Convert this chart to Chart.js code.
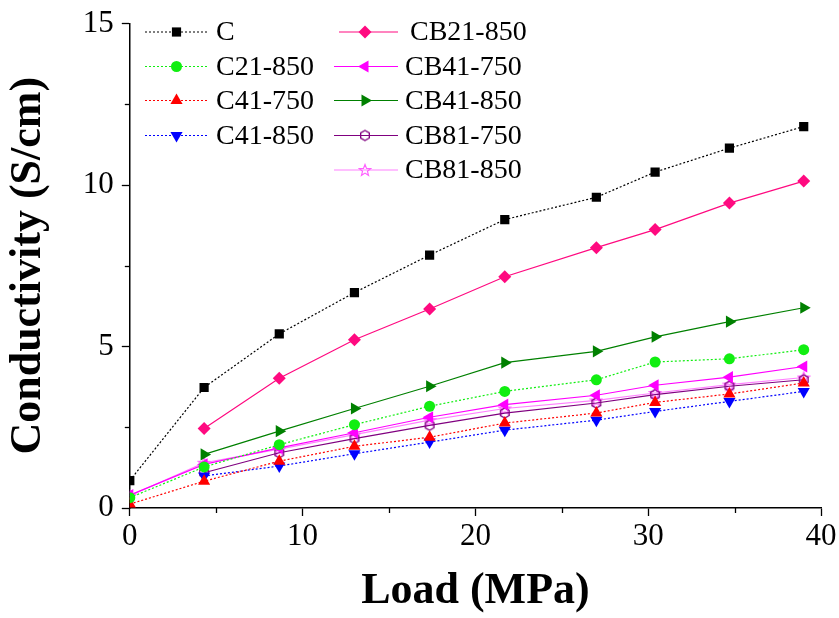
<!DOCTYPE html>
<html>
<head>
<meta charset="utf-8">
<script src="https://cdn.jsdelivr.net/npm/chart.js@4/dist/chart.umd.min.js"></script>
<style>
html,body{margin:0;padding:0;background:#fff;}
#wrap{width:839px;height:618px;position:relative;}
</style>
</head>
<body>
<div id="wrap"><canvas id="c" width="839" height="618"></canvas></div>
<script>
// ---- data ----
const loads = [0, 4.3, 8.65, 13, 17.35, 21.7, 27, 30.4, 34.7, 39];
const seriesNames = ['C','C21-850','C41-750','C41-850','CB21-850','CB41-750','CB41-850','CB81-750','CB81-850'];
const valC       = [0.85, 3.73, 5.39, 6.67, 7.83, 8.93, 9.62, 10.40, 11.14, 11.81];
const valC21_850 = [0.32, 1.27, 1.96, 2.58, 3.15, 3.61, 3.97, 4.52, 4.62, 4.90];
const valC41_750 = [0.12, 0.83, 1.45, 1.91, 2.19, 2.63, 2.94, 3.27, 3.53, 3.87];
const valC41_850 = [null, 0.99, 1.30, 1.68, 2.04, 2.41, 2.72, 2.99, 3.30, 3.61];
const valCB21_850 = [null, 2.46, 4.02, 5.21, 6.16, 7.16, 8.06, 8.62, 9.44, 10.12];
const valCB41_750 = [0.40, 1.35, 1.86, 2.33, 2.81, 3.20, 3.49, 3.80, 4.05, 4.38];
const valCB41_850 = [null, 1.66, 2.38, 3.08, 3.77, 4.50, 4.85, 5.30, 5.77, 6.20];
const valCB81_750 = [null, 1.09, 1.71, 2.15, 2.56, 2.94, 3.25, 3.51, 3.77, 3.97];
const valCB81_850 = [0.38, 1.40, 1.82, 2.27, 2.72, 3.08, 3.33, 3.56, 3.82, 4.04];
const xTicks = [0, 10, 20, 30, 40];
const yTicks = [0, 5, 10, 15];

// ---- custom markers ----
function hexCanvas(color){
  const s = 14, c = document.createElement('canvas'); c.width = s; c.height = s;
  const g = c.getContext('2d'); g.strokeStyle = color; g.lineWidth = 1.3; g.beginPath();
  for (let i = 0; i < 6; i++){ const a = Math.PI/6 + i*Math.PI/3; const px = 7 + 5*Math.cos(a), py = 7 + 5*Math.sin(a); if(i===0) g.moveTo(px,py); else g.lineTo(px,py);} 
  g.closePath(); g.stroke(); return c;
}
function starCanvas(color){
  const s = 14, c = document.createElement('canvas'); c.width = s; c.height = s;
  const g = c.getContext('2d'); g.strokeStyle = color; g.lineWidth = 1.2; g.beginPath();
  for (let i = 0; i < 10; i++){ const r = i%2===0 ? 6 : 2.6; const a = -Math.PI/2 + i*Math.PI/5; const px = 7 + r*Math.cos(a), py = 7.5 + r*Math.sin(a); if(i===0) g.moveTo(px,py); else g.lineTo(px,py);} 
  g.closePath(); g.stroke(); return c;
}

function pts(vals){ const out=[]; vals.forEach((v,i)=>{ if(v!==null) out.push({x:loads[i], y:v}); }); return out; }

const DOT = [2,2];
const styles = [
  {color:'#000000', style:'rect', r:6.5, rot:0, dash:DOT},
  {color:'#11ee11', style:'circle', r:5.5, rot:0, dash:DOT},
  {color:'#ff0000', style:'triangle', r:7, rot:0, dash:DOT},
  {color:'#0000ff', style:'triangle', r:7, rot:180, dash:DOT},
  {color:'#ff0a80', style:'rectRot', r:6.5, rot:0, dash:[]},
  {color:'#ff00ff', style:'triangle', r:7, rot:-90, dash:[]},
  {color:'#008000', style:'triangle', r:7, rot:90, dash:[]},
  {color:'#800080', style:hexCanvas('#800080'), r:6, rot:0, dash:[]},
  {color:'#ff80ff', style:starCanvas('#ff60ff'), r:6, rot:0, dash:[]}
];
const allVals = [valC, valC21_850, valC41_750, valC41_850, valCB21_850, valCB41_750, valCB41_850, valCB81_750, valCB81_850];

const datasets = seriesNames.map((n,i)=>{
  const s = styles[i];
  return {
    label: n, data: pts(allVals[i]),
    borderColor: s.color, backgroundColor: s.color,
    borderWidth: 1.2, borderDash: s.dash,
    pointStyle: s.style, pointRadius: s.r, pointHoverRadius: s.r,
    pointRotation: s.rot, pointBorderWidth: 0, pointBackgroundColor: s.color, pointBorderColor: s.color,
    tension: 0, fill: false
  };
});

// legend plugin
const legendPlugin = {
  id: 'customLegend',
  afterDatasetsDraw(chart){
    const ctx = chart.ctx;
    const cols = [
      {x0:145, x1:208, mx:176.5, tx:216},
      {x0:334, x1:398, mx:365, tx:405}
    ];
    const rows = [32, 66.5, 100.5, 135.5, 170];
    const order = [[0,0,0],[1,0,1],[2,0,2],[3,0,3],[4,1,0],[5,1,1],[6,1,2],[7,1,3],[8,1,4]];
    ctx.save();
    order.forEach(([i,c,r])=>{
      const s = styles[i], col = cols[c], y = rows[r];
      let x0 = col.x0, tx = col.tx;
      if (i === 4) { x0 = 339; tx = 410; }
      ctx.strokeStyle = s.color; ctx.lineWidth = 1.2; ctx.setLineDash(s.dash);
      ctx.beginPath(); ctx.moveTo(x0, y); ctx.lineTo(col.x1, y); ctx.stroke();
      ctx.setLineDash([]);
      ctx.fillStyle = s.color; ctx.strokeStyle = s.color;
      Chart.helpers.drawPoint(ctx, {pointStyle: s.style, radius: s.r, rotation: s.rot, borderWidth: 0}, col.mx, y);
      ctx.fillStyle = '#000'; ctx.font = '28px "Liberation Serif", "Times New Roman", serif';
      ctx.textBaseline = 'middle'; ctx.textAlign = 'left';
      ctx.fillText(seriesNames[i], tx, y + 1);
    });
    ctx.restore();
  }
};

// minor ticks plugin
const minorTicks = {
  id: 'minorTicks',
  afterDraw(chart){
    const ctx = chart.ctx, xs = chart.scales.x, ys = chart.scales.y, a = chart.chartArea;
    ctx.save(); ctx.strokeStyle = '#000'; ctx.lineWidth = 1.3;
    [5,15,25,35].forEach(v=>{ const px = Math.round(xs.getPixelForValue(v))+0.5; ctx.beginPath(); ctx.moveTo(px, a.bottom); ctx.lineTo(px, a.bottom+5); ctx.stroke(); });
    [2.5,7.5,12.5].forEach(v=>{ const py = Math.round(ys.getPixelForValue(v))+0.5; ctx.beginPath(); ctx.moveTo(a.left, py); ctx.lineTo(a.left-5, py); ctx.stroke(); });
    ctx.restore();
  }
};

const serif = '"Liberation Serif", "Times New Roman", serif';
new Chart(document.getElementById('c'), {
  type: 'line',
  data: { datasets },
  options: {
    responsive: false, animation: false, devicePixelRatio: 1,
    layout: { padding: { left: 2, right: 18, top: 4, bottom: 0 } },
    plugins: { legend: { display: false }, tooltip: { enabled: false } },
    scales: {
      x: {
        type: 'linear', min: 0, max: 40,
        afterBuildTicks(ax){ ax.ticks = xTicks.map(v=>({value:v})); },
        ticks: { color:'#000', font:{family:serif, size:31}, padding: 2, maxRotation:0, autoSkip:false },
        grid: { drawOnChartArea:false, drawTicks:true, tickLength:8, tickColor:'#000', tickWidth:1.3 },
        border: { display:true, color:'#000', width:1.5 },
        title: { display:true, text:'Load (MPa)', color:'#000', font:{family:serif, size:44, weight:'bold'}, padding:{top:8, bottom:0} }
      },
      y: {
        type: 'linear', min: 0, max: 15,
        afterBuildTicks(ax){ ax.ticks = yTicks.map(v=>({value:v})); },
        ticks: { color:'#000', font:{family:serif, size:31, lineHeight:1.0}, padding: 8, autoSkip:false },
        grid: { drawOnChartArea:false, drawTicks:true, tickLength:8, tickColor:'#000', tickWidth:1.3 },
        border: { display:true, color:'#000', width:1.5 },
        title: { display:true, text:'Conductivity (S/cm)', color:'#000', font:{family:serif, size:44, weight:'bold'}, padding:{top:0, bottom:20} }
      }
    }
  },
  plugins: [legendPlugin, minorTicks]
});
</script>
</body>
</html>
